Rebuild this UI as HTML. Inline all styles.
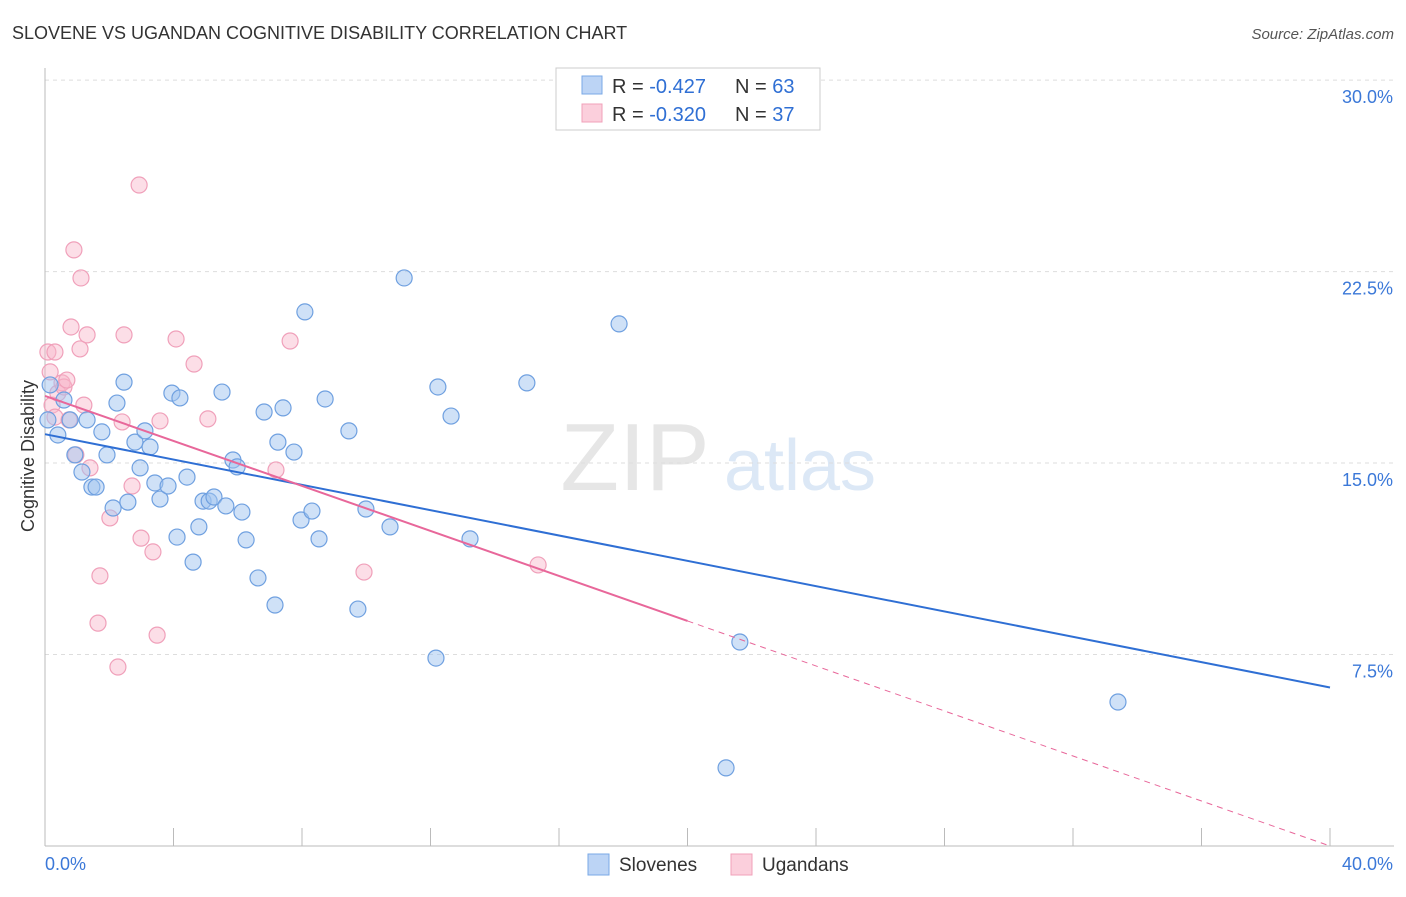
<!DOCTYPE html>
<html><head><meta charset="utf-8"><style>
body{margin:0;background:#fff;font-family:"Liberation Sans",sans-serif;}
svg text{font-family:"Liberation Sans",sans-serif;}
</style></head><body>
<svg id="c" width="1406" height="892">
<text x="12" y="39" font-size="18" fill="#333">SLOVENE VS UGANDAN COGNITIVE DISABILITY CORRELATION CHART</text>
<text x="1394" y="39" font-size="15" fill="#555" font-style="italic" text-anchor="end">Source: ZipAtlas.com</text>
<g><text x="635" y="490" font-size="96" fill="#e6e6e6" font-family="Liberation Serif" text-anchor="middle">ZIP</text><text x="800" y="490" font-size="72" fill="#dce8f6" text-anchor="middle">atlas</text></g>
<g id="grid"></g><g id="axes"></g><g id="marks"></g>
<text transform="translate(34,456) rotate(-90)" font-size="18" fill="#333" text-anchor="middle">Cognitive Disability</text>
<g>
<rect x="556" y="68" width="264" height="62" fill="#fff" stroke="#ccc"/>
<rect x="582" y="76" width="20" height="18" fill="#bcd4f5" stroke="#7aa8e6"/>
<rect x="582" y="104" width="20" height="18" fill="#fbcfdc" stroke="#f0a0ba"/>
<text x="612" y="93" font-size="20" fill="#333">R = <tspan fill="#2f6fd4">-0.427</tspan></text>
<text x="735" y="93" font-size="20" fill="#333">N = <tspan fill="#2f6fd4">63</tspan></text>
<text x="612" y="121" font-size="20" fill="#333">R = <tspan fill="#2f6fd4">-0.320</tspan></text>
<text x="735" y="121" font-size="20" fill="#333">N = <tspan fill="#2f6fd4">37</tspan></text>
</g>
<g>
<rect x="588" y="854" width="21" height="21" fill="#bcd4f5" stroke="#7aa8e6"/>
<text x="619" y="871" font-size="19" fill="#333">Slovenes</text>
<rect x="731" y="854" width="21" height="21" fill="#fbcfdc" stroke="#f0a0ba"/>
<text x="762" y="871" font-size="19" fill="#333">Ugandans</text>
</g>
</svg>
<script>
const yTicks=[7.5,15,22.5,30];
const yTickLabels=["7.5%","15.0%","22.5%","30.0%"];
const blueX=[0.16,0.40,0.59,0.78,0.93,1.15,1.31,1.46,1.59,1.77,1.93,2.12,2.24,2.46,2.58,2.80,2.96,3.11,3.27,3.42,3.58,3.83,3.95,4.11,4.20,4.42,4.61,4.79,4.92,5.11,5.26,5.51,5.63,5.85,5.98,6.13,6.26,6.63,6.82,7.16,7.25,7.41,7.75,7.97,8.09,8.31,8.53,8.72,9.46,9.74,9.99,10.74,11.18,12.17,12.23,12.64,13.23,15.00,17.87,21.63,21.20,33.40,0.09];
const blueY=[18.06,16.10,17.47,16.69,15.32,14.65,16.69,14.06,14.06,16.22,15.32,13.24,17.35,18.17,13.47,15.82,14.81,16.26,15.63,14.22,13.59,14.10,17.74,12.10,17.55,14.45,11.12,12.50,13.51,13.51,13.67,17.78,13.32,15.12,14.85,13.08,11.99,10.50,17.00,9.44,15.82,17.16,15.43,12.77,20.92,13.12,12.03,17.51,16.26,9.28,13.20,12.50,22.25,7.36,17.98,16.84,12.03,18.14,20.45,7.99,3.06,5.64,16.69];
const pinkX=[0.09,0.16,0.22,0.31,0.40,0.53,0.59,0.68,0.75,0.81,0.90,0.96,1.09,1.12,1.21,1.31,1.40,1.65,1.71,2.02,2.27,2.40,2.46,2.71,2.93,2.99,3.36,3.49,3.58,4.08,4.64,5.07,7.19,7.63,9.93,15.35,0.31];
const pinkY=[19.35,18.57,17.27,16.80,17.74,18.14,17.98,18.25,16.69,20.33,23.35,15.32,19.47,22.25,17.27,20.02,14.81,8.73,10.58,12.85,7.01,16.61,20.02,14.10,25.89,12.06,11.52,8.26,16.65,19.86,18.88,16.73,14.73,19.78,10.73,11.01,19.35];
const blueTrend=[16.13,6.21];
const pinkTrend=[17.63,0.0];
const pinkSolidEnd=20;
const ns="http://www.w3.org/2000/svg";
const X=v=>45+v/40*1285, Y=v=>846-v*25.53;
function mk(t,a,p){const e=document.createElementNS(ns,t);for(const k in a)e.setAttribute(k,a[k]);p.appendChild(e);return e;}
const grid=document.getElementById('grid'),axes=document.getElementById('axes'),marks=document.getElementById('marks');
yTicks.forEach((t,i)=>{
 const l=mk('line',{x1:45,x2:1394,y1:Y(t),y2:Y(t),stroke:'#ddd','stroke-dasharray':'4,4'},grid);
 
 
 const tx=mk('text',{x:1393,y:Y(t)+23,'font-size':18,fill:'#3b78d8','text-anchor':'end'},axes);tx.textContent=yTickLabels[i];
 
 
});
mk('line',{x1:45,x2:45,y1:68,y2:846,stroke:'#bbb'},axes);
mk('line',{x1:45,x2:1394,y1:846,y2:846,stroke:'#bbb'},axes);
for(let i=0;i<=10;i++){const l=mk('line',{x1:X(i*4),x2:X(i*4),y1:828,y2:846,stroke:'#bbb'},axes);
 
 }
let a=mk('text',{x:45,y:870,'font-size':18,fill:'#3b78d8'},axes);a.textContent='0.0%';


a=mk('text',{x:1393,y:870,'font-size':18,fill:'#3b78d8','text-anchor':'end'},axes);a.textContent='40.0%';


pinkX.forEach((x,i)=>{const c=mk('circle',{cx:X(x),cy:Y(pinkY[i]),r:8,fill:'rgba(248,182,202,0.45)',stroke:'#f0a0ba','stroke-width':1.2},marks);
 
 });
blueX.forEach((x,i)=>{const c=mk('circle',{cx:X(x),cy:Y(blueY[i]),r:8,fill:'rgba(160,196,240,0.5)',stroke:'#6fa0e0','stroke-width':1.2},marks);
 
 });
const py=v=>pinkTrend[0]+(pinkTrend[1]-pinkTrend[0])*v/40;
let t=mk('line',{x1:X(0),y1:Y(blueTrend[0]),x2:X(40),y2:Y(blueTrend[1]),stroke:'#2f6fd4','stroke-width':2},marks);


t=mk('line',{x1:X(0),y1:Y(py(0)),x2:X(pinkSolidEnd),y2:Y(py(pinkSolidEnd)),stroke:'#e8679a','stroke-width':2},marks);


t=mk('line',{x1:X(pinkSolidEnd),y1:Y(py(pinkSolidEnd)),x2:X(40),y2:Y(py(40)),stroke:'#e8679a','stroke-width':1,'stroke-dasharray':'6,5'},marks);


</script>
</body></html>
